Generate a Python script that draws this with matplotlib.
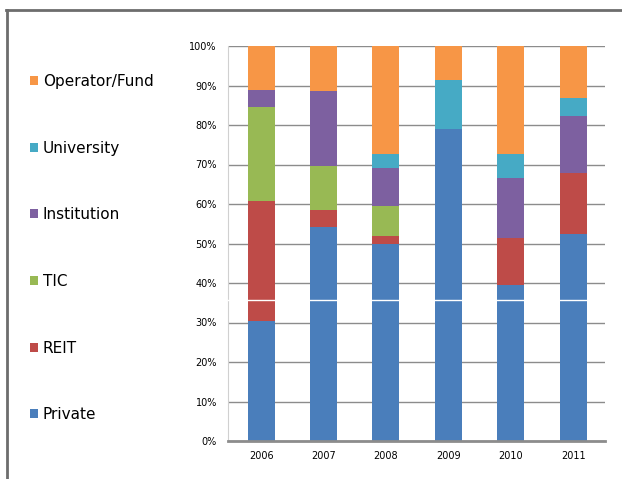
import matplotlib.pyplot as plt
from matplotlib.lines import Line2D
import numpy as np

years = ['2006', '2007', '2008', '2009', '2010', '2011']
# share in percent, bottom to top
private = [30.4, 54.3, 50.0, 78.9, 39.5, 52.3]
reit = [30.4, 4.2, 1.9, 0.0, 11.8, 15.5]
tic = [23.8, 11.1, 7.6, 0.0, 0.0, 0.0]
institution = [4.3, 19.1, 9.7, 0.0, 15.4, 14.5]
university = [0.0, 0.0, 3.5, 12.5, 5.9, 4.5]
operator_fund = [11.1, 11.3, 27.3, 8.6, 27.4, 13.2]

series = [
    ('Private', private, '#4a7ebb'),
    ('REIT', reit, '#be4b48'),
    ('TIC', tic, '#98b954'),
    ('Institution', institution, '#7d60a0'),
    ('University', university, '#46aac5'),
    ('Operator/Fund', operator_fund, '#f79646'),
]

fig = plt.figure(figsize=(6.22, 4.79), dpi=100)
ax = fig.add_axes([228/622, 38/479, 377/622, 395/479])

x = np.arange(len(years))
bottom = np.zeros(len(years))
handles = []
for name, vals, col in series:
    b = ax.bar(x, vals, 0.43, bottom=bottom, color=col, label=name, zorder=2)
    handles.append(b)
    bottom += np.array(vals)

# white streak crossing the bars in the original image
ax.axhline(35.7, color='white', lw=1, zorder=3)

ax.set_xlim(-0.53, 5.51)
ax.set_ylim(0, 100)
ax.set_yticks(range(0, 101, 10))
ax.set_yticklabels([f'{v}%' for v in range(0, 101, 10)], fontsize=7)
ax.set_xticks(x)
ax.set_xticklabels(years, fontsize=7)
ax.tick_params(axis='y', length=0, pad=8)
ax.tick_params(axis='x', length=0, pad=7)
ax.yaxis.grid(True, color='#8c8c8c', lw=1, zorder=0)
ax.set_axisbelow(True)
for s in ['top', 'right']:
    ax.spines[s].set_visible(False)
ax.spines['left'].set_color('#d0d0d0')
ax.spines['bottom'].set_color('#8c8c8c')
ax.spines['bottom'].set_linewidth(2)

fig.legend(handles[::-1], [s[0] for s in series][::-1], loc='upper left',
           bbox_to_anchor=(30/622, 1 - 74/479), frameon=False, fontsize=11,
           labelspacing=3.38, handlelength=0.55, handleheight=0.55,
           handletextpad=0.3, borderpad=0, borderaxespad=0)

# outer frame lines (top and left)
fig.add_artist(Line2D([6/622, 1], [1 - 10/479, 1 - 10/479], color='#6d6d6d', lw=2))
fig.add_artist(Line2D([7/622, 7/622], [0, 1 - 10/479], color='#6d6d6d', lw=2))

fig.savefig('out.png', dpi=100)
